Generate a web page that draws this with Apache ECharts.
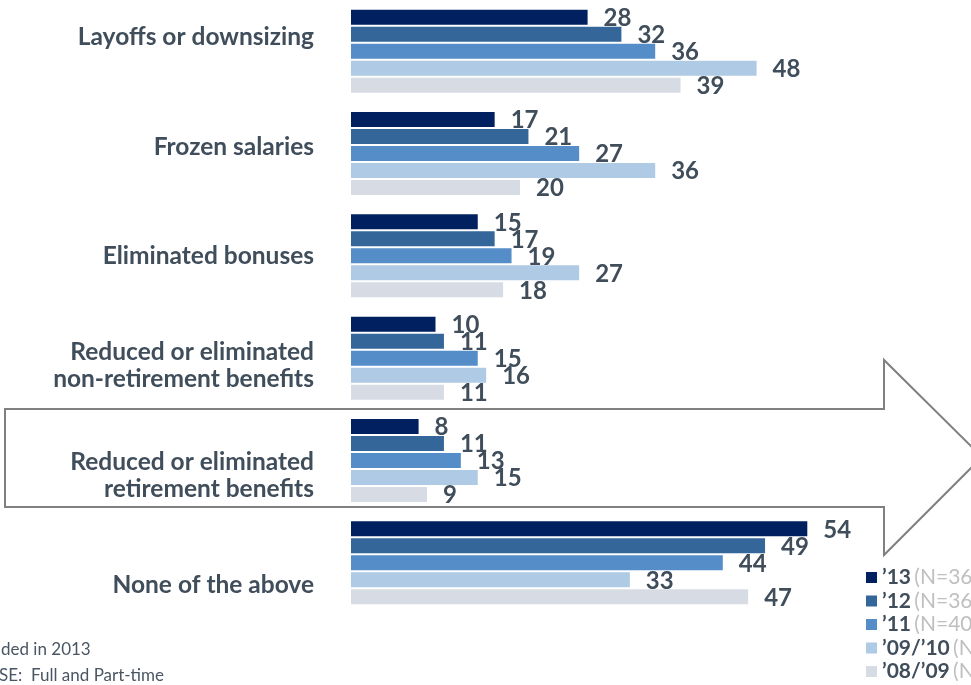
<!DOCTYPE html>
<html>
<head>
<meta charset="utf-8">
<script src="https://cdn.jsdelivr.net/npm/echarts@6/dist/echarts.min.js"></script>
<style>
    html, body { margin: 0; padding: 0; background: #fff; }
    #chart { width: 971px; height: 685px; }
</style>
</head>
<body>
<div id="chart"></div>
<script>
// categories, top to bottom
const categories = [
    'Layoffs or downsizing',
    'Frozen salaries',
    'Eliminated bonuses',
    'Reduced or eliminated\nnon-retirement benefits',
    'Reduced or eliminated\nretirement benefits',
    'None of the above'
];
const seriesNames = ['’13', '’12', '’11', '’09/’10', '’08/’09'];
const sampleSizes = ['(N=363)', '(N=362)', '(N=400)', '(N=401)', '(N=406)'];
const values13 = [28, 17, 15, 10, 8, 54];
const values12 = [32, 21, 17, 11, 11, 49];
const values11 = [36, 27, 19, 15, 13, 44];
const values0910 = [48, 36, 27, 16, 15, 33];
const values0809 = [39, 20, 18, 11, 9, 47];
const colors = ['#002060', '#346699', '#558dc9', '#afcae5', '#d7dce4'];

const textColor = '#404d5b';
const font = 'Lato';

let chart = echarts.init(document.getElementById('chart'));
let allValues = [values13, values12, values11, values0910, values0809];

let series = allValues.map((vals, i) => ({
    name: seriesNames[i],
    type: 'bar',
    data: vals,
    barWidth: 15,
    barGap: '13.3%',
    itemStyle: { color: colors[i] },
    label: {
        show: true,
        position: 'right',
        distance: 16,
        offset: [0, 1],
        color: textColor,
        fontFamily: font,
        fontWeight: 'bold',
        fontSize: 24
    },
    emphasis: { disabled: true }
}));

chart.setOption({
    animation: false,
    // grid 0 holds the bars, grid 1 only carries the category labels,
    // which sit on a slightly wider pitch in the original
    grid: [
        { left: 351, top: 0, right: 113, bottom: 71 },
        { left: 351, top: 37, right: 113, height: 548 }
    ],
    xAxis: [
        { type: 'value', min: 0, max: 60, show: false },
        { type: 'value', min: 0, max: 60, show: false, gridIndex: 1 }
    ],
    yAxis: [
        {
            type: 'category',
            inverse: true,
            data: categories,
            axisLine: { show: false },
            axisTick: { show: false },
            axisLabel: { show: false }
        },
        {
            type: 'category',
            gridIndex: 1,
            inverse: true,
            boundaryGap: false,
            data: categories,
            axisLine: { show: false },
            axisTick: { show: false },
            axisLabel: {
                margin: 37,
                color: textColor,
                fontFamily: font,
                fontWeight: 'bold',
                fontSize: 24.5,
                lineHeight: 27,
                align: 'right'
            }
        }
    ],
    legend: {
        orient: 'vertical',
        left: 866,
        top: 567,
        height: 160,
        padding: 0,
        icon: 'rect',
        itemWidth: 11,
        itemHeight: 11,
        itemGap: 2.5,
        data: seriesNames,
        formatter: (name) => '{a|' + name + '} {b|' + sampleSizes[seriesNames.indexOf(name)] + '}',
        textStyle: {
            rich: {
                a: { color: textColor, fontFamily: font, fontWeight: 'bold', fontSize: 21, lineHeight: 19 },
                b: { color: '#bfbfbf', fontFamily: font, fontSize: 21, lineHeight: 19 }
            }
        }
    },
    graphic: [
        {
            type: 'polygon',
            z: -1,
            shape: {
                points: [[5, 409], [884, 409], [884, 360], [982, 457], [884, 555], [884, 507], [5, 507]]
            },
            style: { fill: 'none', stroke: '#808080', lineWidth: 2 }
        },
        {
            type: 'text',
            left: 1,
            top: 641,
            style: { text: 'ded in 2013', fill: '#4a5663', font: '17px Lato' }
        },
        {
            type: 'text',
            left: -1,
            top: 667,
            style: { text: 'SE:  Full and Part-time', fill: '#4a5663', font: '17px Lato' }
        }
    ],
    series: series
});
</script>
</body>
</html>
